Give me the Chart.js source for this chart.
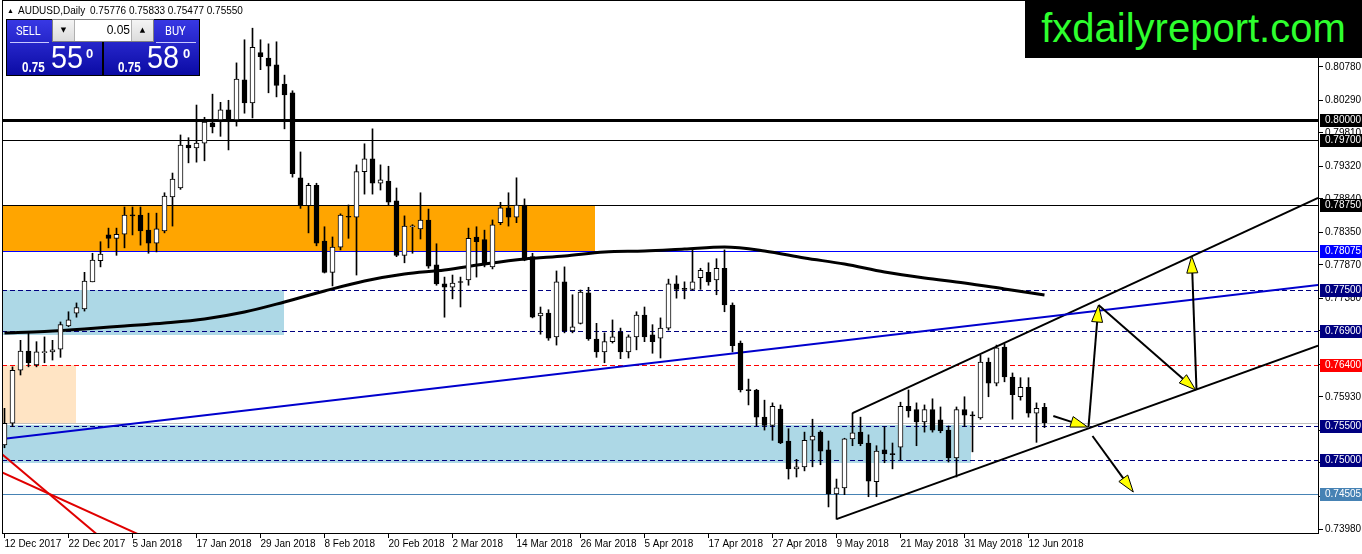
<!DOCTYPE html>
<html>
<head>
<meta charset="utf-8">
<script src="https://cdn.jsdelivr.net/npm/chart.js@4.4.1/dist/chart.umd.min.js"></script>
<style>
html,body{margin:0;padding:0;background:#fff;overflow:hidden;}
#wrap{position:relative;width:1362px;height:554px;}
#c{position:absolute;left:0;top:0;}
.abs{position:absolute;white-space:nowrap;}
.hdr{font:10px "Liberation Sans",Arial,sans-serif;color:#000;line-height:12px;top:5px;}
#logo{left:1025px;top:0;width:337px;height:58px;background:#000;color:#2eff2e;font:40px "Liberation Sans",Arial,sans-serif;line-height:56px;text-align:center;}
.panel{top:19px;width:97px;height:57px;background:linear-gradient(#3838e4,#0b0ba4);border:1px solid #000;box-sizing:border-box;}
.lbl{font:13px Roboto,"Liberation Sans",sans-serif;color:#fff;transform:scaleX(0.85);transform-origin:0 0;line-height:14px;top:4px;}
.uline{height:1px;background:#c8c8ff;top:22px;}
.small{font:bold 14px "Liberation Sans",Arial,sans-serif;color:#fff;transform:scaleX(0.83);transform-origin:0 0;line-height:14px;top:40px;}
.big{font:32px "Liberation Sans",Arial,sans-serif;color:#fff;transform:scaleX(0.9);transform-origin:0 0;line-height:32px;top:21px;}
.sup{font:bold 13px "Liberation Sans",Arial,sans-serif;color:#fff;line-height:13px;top:27px;}
#spin{left:52px;top:19px;width:102px;height:23px;background:#fff;border:1px solid #808080;box-sizing:border-box;}
.btn{top:0;width:21px;height:21px;background:linear-gradient(#f4f4f4,#dcdcdc);font:7px "DejaVu Sans",sans-serif;color:#000;text-align:center;line-height:21px;}
#val{left:22px;top:0;width:55px;height:21px;font:12px "Liberation Sans",Arial,sans-serif;line-height:21px;text-align:right;color:#000;}
</style>
</head>
<body>
<div id="wrap">
<canvas id="c" width="1362" height="554"></canvas>
<div class="abs hdr" style="left:7px;font-size:7px;">&#9650;</div>
<div class="abs hdr" style="left:18px;">AUDUSD,Daily</div>
<div class="abs hdr" style="left:90px;">0.75776 0.75833 0.75477 0.75550</div>

<div class="abs panel" style="left:6px;">
  <div class="abs lbl" style="left:9px;">SELL</div>
  <div class="abs uline" style="left:3px;width:39px;"></div>
  <div class="abs small" style="left:15px;">0.75</div>
  <div class="abs big" style="left:44px;">55</div>
  <div class="abs sup" style="left:79px;">0</div>
</div>
<div class="abs panel" style="left:103px;">
  <div class="abs lbl" style="left:61px;">BUY</div>
  <div class="abs uline" style="left:52px;width:40px;"></div>
  <div class="abs small" style="left:14px;">0.75</div>
  <div class="abs big" style="left:43px;">58</div>
  <div class="abs sup" style="left:79px;">0</div>
</div>
<div class="abs" id="spin">
  <div class="abs btn" style="left:0;border-right:1px solid #b0b0b0;">&#9660;</div>
  <div class="abs" id="val">0.05</div>
  <div class="abs btn" style="right:0;border-left:1px solid #b0b0b0;">&#9650;</div>
</div>
<div class="abs" id="logo">fxdailyreport.com</div>
</div>

<script>
// ---------------- DATA ----------------
const dateLabels = ['12 Dec 2017','22 Dec 2017','5 Jan 2018','17 Jan 2018','29 Jan 2018','8 Feb 2018',
  '20 Feb 2018','2 Mar 2018','14 Mar 2018','26 Mar 2018','5 Apr 2018','17 Apr 2018','27 Apr 2018',
  '9 May 2018','21 May 2018','31 May 2018','12 Jun 2018'];
const dateLabelIndex = [0,8,16,24,32,40,48,56,64,72,80,88,96,104,112,120,128];

const opens = [0.7522,0.7554,0.7632,0.7660,0.7640,0.7658,0.7659,0.7663,0.7697,0.7716,
0.7722,0.7762,0.7793,0.7831,0.7826,0.7832,0.7860,0.7860,0.7838,0.7819,
0.7837,0.7887,0.7900,0.7963,0.7959,0.7966,0.7996,0.8000,0.8015,0.8000,
0.8059,0.8025,0.8099,0.8091,0.8081,0.8053,0.8040,0.7915,0.7874,0.7904,
0.7822,0.7776,0.7813,0.7858,0.7857,0.7924,0.7943,0.7907,0.7910,0.7881,
0.7801,0.7843,0.7840,0.7853,0.7787,0.7759,0.7754,0.7762,0.7765,0.7828,
0.7824,0.7784,0.7849,0.7871,0.7857,0.7875,0.7799,0.7712,0.7716,0.7681,
0.7762,0.7690,0.7701,0.7746,0.7678,0.7659,0.7674,0.7688,0.7659,0.7681,
0.7713,0.7684,0.7679,0.7694,0.7759,0.7752,0.7751,0.7768,0.7776,0.7765,
0.7782,0.7728,0.7672,0.7603,0.7603,0.7563,0.7551,0.7575,0.7528,0.7487,
0.7490,0.7529,0.7541,0.7515,0.7450,0.7459,0.7531,0.7541,0.7525,0.7468,
0.7515,0.7509,0.7519,0.7579,0.7574,0.7556,0.7574,0.7559,0.7544,0.7503,
0.7574,0.7566,0.7562,0.7644,0.7613,0.7666,0.7622,0.7593,0.7607,0.7569,
0.75776];
const highs = [0.7576,0.7637,0.7676,0.7687,0.7674,0.7681,0.7676,0.7703,0.7718,0.7731,
0.7776,0.7804,0.7821,0.7841,0.7841,0.7872,0.7872,0.7872,0.7863,0.7863,
0.7893,0.7922,0.7978,0.7974,0.8022,0.8004,0.8038,0.8026,0.8029,0.8084,
0.8118,0.8135,0.8118,0.8112,0.8115,0.8066,0.8043,0.7953,0.7907,0.7907,
0.7843,0.7828,0.7862,0.7875,0.7934,0.7965,0.7987,0.7934,0.7932,0.7900,
0.7859,0.7846,0.7893,0.7869,0.7818,0.7769,0.7772,0.7769,0.7841,0.7843,
0.7838,0.7853,0.7879,0.7893,0.7915,0.7884,0.7804,0.7725,0.7721,0.7778,
0.7784,0.7743,0.7750,0.7754,0.7701,0.7687,0.7706,0.7694,0.7684,0.7718,
0.7725,0.7699,0.7709,0.7766,0.7771,0.7762,0.7809,0.7782,0.7790,0.7796,
0.7809,0.7731,0.7675,0.7619,0.7604,0.7588,0.7584,0.7581,0.7546,0.7501,
0.7541,0.7560,0.7543,0.7528,0.7472,0.7532,0.7569,0.7563,0.7537,0.7521,
0.7549,0.7525,0.7585,0.7603,0.7584,0.7581,0.7590,0.7578,0.7550,0.7578,
0.7593,0.7571,0.7654,0.7650,0.7669,0.7671,0.7628,0.7621,0.7621,0.7584,
0.75833];
const lows = [0.7518,0.7549,0.7625,0.7637,0.7637,0.7643,0.7647,0.7651,0.7696,0.7710,
0.7719,0.7762,0.7784,0.7812,0.7801,0.7812,0.7831,0.7816,0.7804,0.7806,
0.7834,0.7844,0.7898,0.7937,0.7938,0.7940,0.7981,0.7976,0.7956,0.7991,
0.8010,0.8003,0.8074,0.8040,0.8034,0.7987,0.7916,0.7870,0.7834,0.7815,
0.7775,0.7756,0.7809,0.7826,0.7772,0.7891,0.7891,0.7897,0.7875,0.7799,
0.7790,0.7804,0.7825,0.7782,0.7757,0.7710,0.7737,0.7725,0.7757,0.7769,
0.7784,0.7781,0.7846,0.7844,0.7849,0.7793,0.7709,0.7685,0.7676,0.7669,
0.7687,0.7687,0.7700,0.7676,0.7651,0.7643,0.7672,0.7649,0.7650,0.7662,
0.7674,0.7657,0.7650,0.7691,0.7738,0.7737,0.7750,0.7751,0.7757,0.7743,
0.7718,0.7659,0.7600,0.7581,0.7550,0.7544,0.7529,0.7524,0.7472,0.7475,
0.7484,0.7490,0.7493,0.7431,0.7413,0.7449,0.7521,0.7521,0.7446,0.7446,
0.7496,0.7487,0.7500,0.7563,0.7521,0.7541,0.7541,0.7540,0.7497,0.7475,
0.7549,0.7512,0.7560,0.7593,0.7609,0.7615,0.7560,0.7588,0.7563,0.7526,
0.75477];
const closes = [0.7554,0.7632,0.7660,0.7643,0.7659,0.7659,0.7662,0.7699,0.7706,0.7724,
0.7763,0.7794,0.7803,0.7826,0.7832,0.7860,0.7859,0.7837,0.7819,0.7840,
0.7888,0.7913,0.7963,0.7959,0.7966,0.7997,0.7990,0.8015,0.8000,0.8060,
0.8025,0.8107,0.8093,0.8079,0.8051,0.8037,0.7921,0.7875,0.7904,0.7819,
0.7776,0.7813,0.7860,0.7857,0.7924,0.7943,0.7907,0.7912,0.7879,0.7801,
0.7844,0.7844,0.7853,0.7785,0.7759,0.7754,0.7760,0.7761,0.7826,0.7821,
0.7790,0.7846,0.7871,0.7857,0.7875,0.7794,0.7710,0.7716,0.7679,0.7762,
0.7690,0.7696,0.7747,0.7678,0.7659,0.7674,0.7681,0.7659,0.7681,0.7713,
0.7681,0.7674,0.7694,0.7759,0.7751,0.7751,0.7762,0.7779,0.7762,0.7782,
0.7728,0.7668,0.7603,0.7602,0.7563,0.7551,0.7579,0.7525,0.7487,0.7490,
0.7529,0.7535,0.7513,0.7450,0.7459,0.7531,0.7540,0.7524,0.7469,0.7513,
0.7509,0.7508,0.7579,0.7572,0.7556,0.7574,0.7544,0.7543,0.7503,0.7574,
0.7566,0.7565,0.7644,0.7613,0.7665,0.7622,0.7596,0.7607,0.7569,0.7576,
0.75550];

// moving average readings
const maIndex = [0,5,10,15,20,25,30,35,40,45,50,55,60,65,70,75,80,85,90,95,100,105,110,115,120,125,130];
const maValues = [0.76868,0.76890,0.76926,0.76971,0.77015,0.77074,0.77176,0.77324,0.77485,0.77632,
  0.77735,0.77794,0.77882,0.77956,0.78000,0.78059,0.78074,0.78103,0.78132,0.78074,
  0.77971,0.77882,0.77765,0.77676,0.77603,0.77515,0.77426];

// right price axis tick labels
const priceTicks = [0.80780,0.80290,0.79810,0.79320,0.78840,0.78350,0.77870,0.77380,
  0.76900,0.76410,0.75930,0.75440,0.74960,0.74470,0.73980];

// horizontal levels
const levelValues = [0.80000,0.79700,0.78750,0.78075,0.77500,0.76900,0.76400,0.75550,0.75500,0.75000,0.74505];
const levelShowLabel = [true,true,true,true,true,true,true,false,true,true,true];

// zones (rectangles): left index, right index, top price, bottom price
const zoneLeft = [-10,-10,-10,-10];
const zoneRight = [73.75,34.9,8.9,120.8];
const zoneTop = [0.78750,0.77500,0.76400,0.75515];
const zoneBottom = [0.78075,0.76838,0.75530,0.74960];

// trend lines (two anchor points each)
const blueTrendX = [-0.3, 164.2];   const blueTrendY = [0.75309, 0.77574];
const upperChanX = [106, 164.2];    const upperChanY = [0.7569, 0.78854];
const lowerChanX = [104, 164.2];    const lowerChanY = [0.7413, 0.76682];
const redAX = [-0.3, 15.75];        const redAY = [0.75085, 0.73490];
const redBX = [-0.3, 24.5];         const redBY = [0.74816, 0.73493];

// arrows
const arrowX0 = [131.1, 135.5, 136.75, 149.0, 136.0];
const arrowY0 = [0.75647, 0.75485, 0.77279, 0.76029, 0.75353];
const arrowX1 = [135.4, 136.75, 148.9, 148.4, 141.1];
const arrowY1 = [0.75485, 0.77279, 0.76029, 0.78000, 0.74529];

// ---------------- STYLES ----------------
const levelStyles = [
  {c:'#000000',w:3,d:[]},{c:'#000000',w:1,d:[]},{c:'#000000',w:1,d:[]},{c:'#0000ff',w:1,d:[]},
  {c:'#000080',w:1,d:[5,3]},{c:'#000080',w:1,d:[5,3]},{c:'#ff0000',w:1,d:[5,3]},{c:'#c0c0c0',w:1,d:[]},
  {c:'#000080',w:1,d:[5,3]},{c:'#000080',w:1,d:[5,3]},{c:'#4682b4',w:1,d:[]}];
const levelBoxColors = ['#000000','#000000','#000000','#0000ff','#000080','#000080','#ff0000',null,'#000080','#000080','#4682b4'];
const zoneColors = ['#ffa500','#add8e6','#ffe4c4','#add8e6'];

// ---------------- BUILD ----------------
const pts = (xs, ys) => xs.map((x, k) => ({x: x, y: ys[k]}));
const bodyData = opens.map((o, i) => ({x: i, y: [Math.min(o, closes[i]), Math.max(o, closes[i])]}));
const wickData = opens.map((o, i) => ({x: i, y: [lows[i], highs[i]]}));
const bodyColors = opens.map((o, i) => closes[i] >= o ? '#ffffff' : '#000000');

const lineDs = (data, color, width, order) => ({type:'line', data: data, borderColor: color, borderWidth: width,
  pointRadius: 0, fill: false, tension: 0, order: order});

const overlay = {
  id: 'overlay',
  beforeDatasetsDraw(chart) {
    const {ctx, chartArea: a, scales: {x, y}} = chart;
    ctx.save();
    ctx.beginPath(); ctx.rect(a.left, a.top, a.right - a.left, a.bottom - a.top); ctx.clip();
    zoneTop.forEach((t, k) => {
      const x0 = Math.max(a.left, x.getPixelForValue(zoneLeft[k]));
      const x1 = Math.round(x.getPixelForValue(zoneRight[k]));
      const y0 = Math.round(y.getPixelForValue(t));
      const y1 = Math.round(y.getPixelForValue(zoneBottom[k]));
      ctx.fillStyle = zoneColors[k];
      ctx.fillRect(x0, y0, x1 - x0, y1 - y0);
    });
    levelValues.forEach((v, k) => {
      const s = levelStyles[k];
      let py = Math.round(y.getPixelForValue(v));
      if (s.w % 2 === 1) py += 0.5;
      ctx.strokeStyle = s.c; ctx.lineWidth = s.w; ctx.setLineDash(s.d);
      ctx.beginPath(); ctx.moveTo(a.left, py); ctx.lineTo(a.right, py); ctx.stroke();
    });
    ctx.restore();
  },
  afterDatasetsDraw(chart) {
    const {ctx, chartArea: a, scales: {x, y}} = chart;
    ctx.save();
    ctx.beginPath(); ctx.rect(a.left, a.top, a.right - a.left, a.bottom - a.top); ctx.clip();
    arrowX0.forEach((_, k) => {
      const p0 = [x.getPixelForValue(arrowX0[k]), y.getPixelForValue(arrowY0[k])];
      const p1 = [x.getPixelForValue(arrowX1[k]), y.getPixelForValue(arrowY1[k])];
      const dx = p1[0] - p0[0], dy = p1[1] - p0[1];
      const L = Math.hypot(dx, dy), ux = dx / L, uy = dy / L;
      const hl = 17, hw = 5.5;
      const bx = p1[0] - ux * hl, by = p1[1] - uy * hl;
      ctx.strokeStyle = '#000'; ctx.lineWidth = 2; ctx.setLineDash([]);
      ctx.beginPath(); ctx.moveTo(p0[0], p0[1]); ctx.lineTo(bx, by); ctx.stroke();
      ctx.beginPath();
      ctx.moveTo(p1[0], p1[1]);
      ctx.lineTo(bx - uy * hw, by + ux * hw);
      ctx.lineTo(bx + uy * hw, by - ux * hw);
      ctx.closePath();
      ctx.fillStyle = '#ffff00'; ctx.fill();
      ctx.lineWidth = 1; ctx.stroke();
    });
    ctx.restore();
    ctx.save();
    ctx.strokeStyle = '#000'; ctx.lineWidth = 1;
    ctx.strokeRect(a.left + 0.5, a.top - 0.5, a.right - a.left, a.bottom - a.top + 1);
    ctx.restore();
  },
  afterDraw(chart) {
    const {ctx, chartArea: a, scales: {y}} = chart;
    ctx.save();
    ctx.font = '10px "Liberation Sans", Arial, sans-serif';
    ctx.textBaseline = 'middle'; ctx.textAlign = 'left';
    levelValues.forEach((v, k) => {
      if (!levelShowLabel[k]) return;
      const py = Math.round(y.getPixelForValue(v));
      ctx.fillStyle = levelBoxColors[k];
      ctx.fillRect(a.right + 2, py - 6, 1362 - a.right - 2, 13);
      ctx.fillStyle = '#ffffff';
      ctx.fillText(v.toFixed(5), a.right + 7, py + 0.5);
    });
    ctx.restore();
  }
};

Chart.defaults.font.family = '"Liberation Sans", Arial, sans-serif';
Chart.defaults.font.size = 10;
Chart.defaults.color = '#000';

new Chart(document.getElementById('c'), {
  type: 'bar',
  data: {
    datasets: [
      {type:'bar', data: bodyData, backgroundColor: bodyColors, borderColor:'#000', borderWidth:1,
        borderSkipped:false, barThickness:5, grouped:false, minBarLength:1, order:0},
      {type:'bar', data: wickData, backgroundColor:'#000', borderWidth:0, barThickness:1, grouped:false, order:1},
      Object.assign(lineDs(pts(maIndex, maValues), '#000', 3, 2), {cubicInterpolationMode:'monotone'}),
      lineDs(pts(blueTrendX, blueTrendY), '#0000cd', 2, 3),
      lineDs(pts(upperChanX, upperChanY), '#000', 2, 3),
      lineDs(pts(lowerChanX, lowerChanY), '#000', 2, 3),
      lineDs(pts(redAX, redAY), '#e00000', 2, 3),
      lineDs(pts(redBX, redBY), '#e00000', 2, 3)
    ]
  },
  options: {
    responsive: false,
    animation: false,
    events: [],
    layout: {padding: {left: 2, top: 1, right: 0, bottom: 0}},
    plugins: {legend: {display: false}, tooltip: {enabled: false}},
    scales: {
      x: {
        type: 'linear', min: -0.3125, max: 164.1875, offset: false, bounds: 'data',
        grid: {display: true, drawOnChartArea: false, drawTicks: true, tickLength: 5, color: '#000', offset: false},
        border: {display: false},
        afterBuildTicks: s => { s.ticks = dateLabelIndex.map(v => ({value: v})); },
        afterFit: s => { s.height = 21; s.paddingLeft = 0; s.paddingRight = 0; s.paddingTop = 0; s.paddingBottom = 0; },
        ticks: {align: 'start', padding: 0, autoSkip: false, maxRotation: 0, minRotation: 0,
          callback: (v, i) => dateLabels[i]}
      },
      y: {
        type: 'linear', position: 'right', min: 0.739265, max: 0.8175, beginAtZero: false, bounds: 'data',
        grid: {display: true, drawOnChartArea: false, drawTicks: true, tickLength: 5, color: '#000'},
        border: {display: false},
        afterBuildTicks: s => { s.ticks = priceTicks.map(v => ({value: v})); },
        afterFit: s => { s.width = 44; s.paddingTop = 0; s.paddingBottom = 0; s.paddingLeft = 0; s.paddingRight = 0; },
        ticks: {padding: 2, autoSkip: false, callback: v => Number(v).toFixed(5)}
      }
    }
  },
  plugins: [overlay]
});
</script>
</body>
</html>
